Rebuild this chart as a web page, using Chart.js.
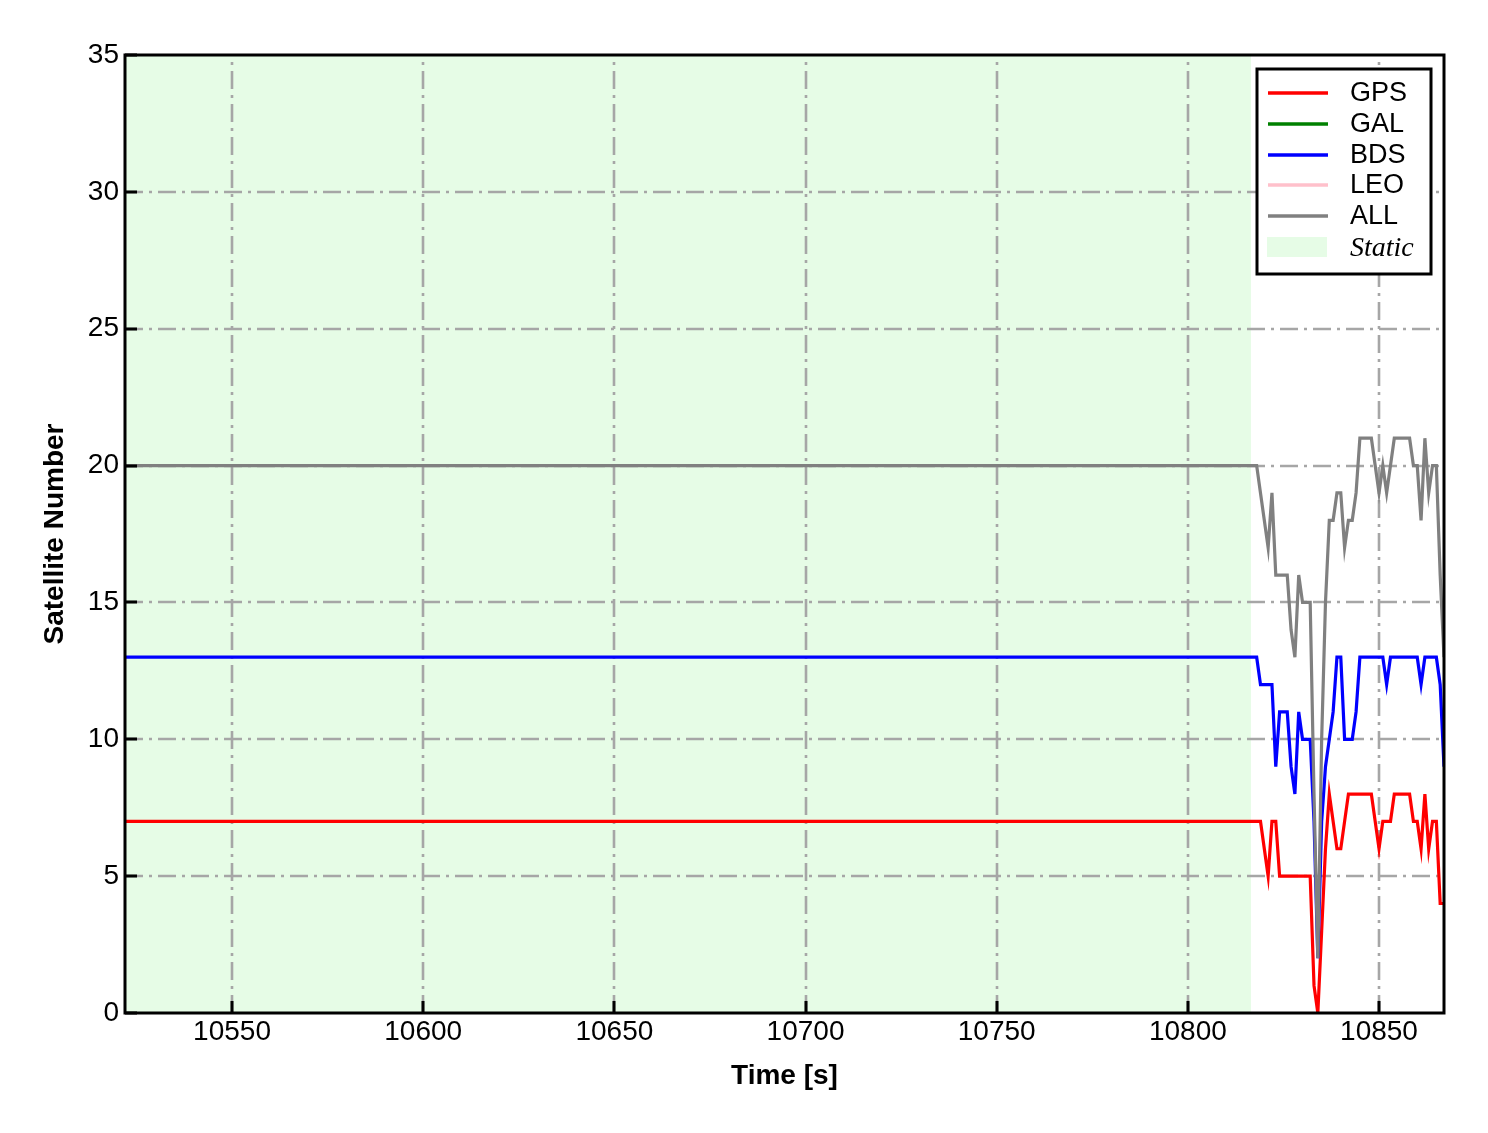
<!DOCTYPE html>
<html><head><meta charset="utf-8">
<script src="https://cdn.jsdelivr.net/npm/chart.js@4.4.0/dist/chart.umd.min.js"></script>
<style>html,body{margin:0;padding:0;background:#fff;}#wrap{width:1488px;height:1133px;}</style>
</head><body><div id="wrap"><canvas id="c" width="1488" height="1133"></canvas></div>
<script>
// Time stamps [s]
const timeS = [10522, 10817, 10818, 10819, 10820, 10821, 10822, 10823, 10824, 10825, 10826, 10827, 10828, 10829, 10830, 10831, 10832, 10833, 10834, 10835, 10836, 10837, 10838, 10839, 10840, 10841, 10842, 10843, 10844, 10845, 10846, 10847, 10848, 10849, 10850, 10851, 10852, 10853, 10854, 10855, 10856, 10857, 10858, 10859, 10860, 10861, 10862, 10863, 10864, 10865, 10866, 10867];
const gps = [7, 7, 7, 7, 6, 5, 7, 7, 5, 5, 5, 5, 5, 5, 5, 5, 5, 1, 0, 3, 6, 8, 7, 6, 6, 7, 8, 8, 8, 8, 8, 8, 8, 7, 6, 7, 7, 7, 8, 8, 8, 8, 8, 7, 7, 6, 8, 6, 7, 7, 4, 4];
const gal = [];
const bds = [13, 13, 13, 12, 12, 12, 12, 9, 11, 11, 11, 9, 8, 11, 10, 10, 10, 7, 2, 7, 9, 10, 11, 13, 13, 10, 10, 10, 11, 13, 13, 13, 13, 13, 13, 13, 12, 13, 13, 13, 13, 13, 13, 13, 13, 12, 13, 13, 13, 13, 12, 9];
const leo = [];
const all = [20, 20, 20, 19, 18, 17, 19, 16, 16, 16, 16, 14, 13, 16, 15, 15, 15, 8, 2, 10, 15, 18, 18, 19, 19, 17, 18, 18, 19, 21, 21, 21, 21, 20, 19, 20, 19, 20, 21, 21, 21, 21, 21, 20, 20, 18, 21, 19, 20, 20, 16, 13];
const xTicks = [10550, 10600, 10650, 10700, 10750, 10800, 10850];
const yTicks = [0, 5, 10, 15, 20, 25, 30, 35];
const xRange = [10522, 10867];
const yRange = [0, 35];
const staticWindow = [10522, 10816.5];
const seriesNames = ['GPS', 'GAL', 'BDS', 'LEO', 'ALL'];
const staticLabel = 'Static';
const xTitle = 'Time [s]';
const yTitle = 'Satellite Number';

const colors = ['#ff0000', '#008000', '#0000ff', '#ffc0cb', '#808080'];
const staticColor = '#e6fce6';
const FONT = "'Liberation Sans', Arial, sans-serif";

function pts(arr){ return arr.map((v,i)=>({x: timeS[i], y: v})); }
const seriesData = [gps, gal, bds, leo, all];

const frame = {
  id: 'frame',
  beforeDatasetsDraw(chart){
    const {ctx, chartArea: a, scales:{x, y}} = chart;
    ctx.save();
    ctx.fillStyle = staticColor;
    const x0 = x.getPixelForValue(staticWindow[0]), x1 = x.getPixelForValue(staticWindow[1]);
    ctx.fillRect(x0, a.top, x1 - x0, a.bottom - a.top);
    ctx.strokeStyle = '#a6a6a6';
    ctx.lineWidth = 2.6;
    ctx.setLineDash([18, 6, 3, 6]);
    xTicks.forEach(v => {
      const px = Math.round(x.getPixelForValue(v));
      ctx.beginPath(); ctx.moveTo(px, a.bottom); ctx.lineTo(px, a.top); ctx.stroke();
    });
    yTicks.forEach(v => {
      if (v === yRange[0] || v === yRange[1]) return;
      const py = Math.round(y.getPixelForValue(v));
      ctx.beginPath(); ctx.moveTo(a.left, py); ctx.lineTo(a.right, py); ctx.stroke();
    });
    ctx.restore();
  },
  afterDatasetsDraw(chart){
    const {ctx, chartArea: a, scales:{x, y}} = chart;
    ctx.save();
    ctx.setLineDash([]);
    ctx.strokeStyle = '#000';
    ctx.lineWidth = 3;
    ctx.strokeRect(a.left, a.top, a.right - a.left, a.bottom - a.top);
    // inward ticks
    xTicks.forEach(v => {
      const px = Math.round(x.getPixelForValue(v));
      ctx.beginPath(); ctx.moveTo(px, a.bottom); ctx.lineTo(px, a.bottom - 12); ctx.stroke();
    });
    yTicks.forEach(v => {
      const py = Math.round(y.getPixelForValue(v));
      ctx.beginPath(); ctx.moveTo(a.left, py); ctx.lineTo(a.left + 12, py); ctx.stroke();
    });
    // axis titles
    ctx.fillStyle = '#000';
    ctx.font = "bold 28px " + FONT;
    ctx.textAlign = 'center'; ctx.textBaseline = 'middle';
    ctx.fillText(xTitle, (a.left + a.right) / 2, 1076);
    ctx.save();
    ctx.translate(55, (a.top + a.bottom) / 2);
    ctx.rotate(-Math.PI / 2);
    ctx.fillText(yTitle, 0, 0);
    ctx.restore();
    // legend
    const lx = a.right - 187, ly = a.top + 14, lw = 174, lh = 205;
    ctx.fillStyle = '#fff';
    ctx.fillRect(lx, ly, lw, lh);
    ctx.lineWidth = 3; ctx.strokeStyle = '#000';
    ctx.strokeRect(lx, ly, lw, lh);
    ctx.textAlign = 'left'; ctx.textBaseline = 'middle';
    const rowY = [24, 55, 86, 116, 147];
    seriesNames.forEach((n, i) => {
      const yy = ly + rowY[i];
      ctx.strokeStyle = colors[i]; ctx.lineWidth = 3.5;
      ctx.beginPath(); ctx.moveTo(lx + 11, yy); ctx.lineTo(lx + 71, yy); ctx.stroke();
      ctx.fillStyle = '#000';
      ctx.font = "27px " + FONT;
      ctx.fillText(n, lx + 93, yy + 1);
    });
    ctx.fillStyle = staticColor;
    ctx.fillRect(lx + 10, ly + 168, 60, 20);
    ctx.fillStyle = '#000';
    ctx.font = "italic 28px 'Liberation Serif', 'Times New Roman', serif";
    ctx.fillText(staticLabel, lx + 93, ly + 180);
    ctx.restore();
  }
};

new Chart(document.getElementById('c'), {
  type: 'line',
  data: {
    datasets: seriesNames.map((n, i) => ({
      label: n,
      data: pts(seriesData[i]),
      borderColor: colors[i],
      backgroundColor: colors[i],
      borderWidth: 3.2,
      pointRadius: 0,
      tension: 0,
      fill: false,
      order: 5 - i
    }))
  },
  options: {
    responsive: false,
    animation: false,
    devicePixelRatio: 1,
    layout: { padding: { top: 55, right: 44, left: 0, bottom: 0 } },
    plugins: { legend: { display: false }, tooltip: { enabled: false } },
    scales: {
      x: {
        type: 'linear', min: xRange[0], max: xRange[1],
        afterBuildTicks: s => { s.ticks = xTicks.map(v => ({ value: v })); },
        afterFit: s => { s.height = 120; },
        grid: { display: false, drawTicks: false },
        border: { display: false },
        ticks: { color: '#000', font: { family: FONT, size: 28 }, padding: 2, maxRotation: 0, autoSkip: false,
                 callback: v => String(v) }
      },
      y: {
        type: 'linear', min: yRange[0], max: yRange[1],
        afterBuildTicks: s => { s.ticks = yTicks.map(v => ({ value: v })); },
        afterFit: s => { s.width = 125; },
        grid: { display: false, drawTicks: false },
        border: { display: false },
        ticks: { color: '#000', font: { family: FONT, size: 28 }, padding: 6, callback: v => String(v) }
      }
    }
  },
  plugins: [frame]
});
</script></body></html>
